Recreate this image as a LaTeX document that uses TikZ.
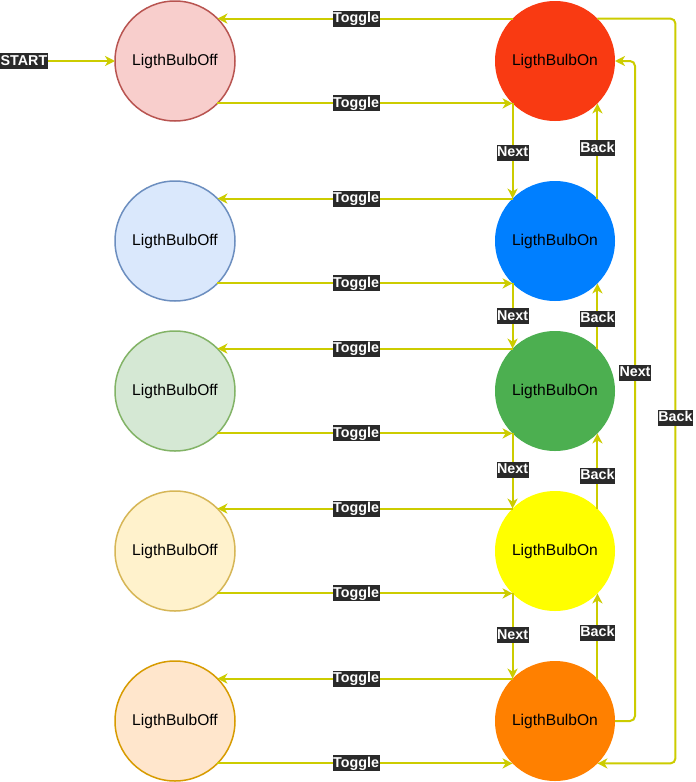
\documentclass[tikz,border=0pt]{standalone}
\usepackage{fontspec}
\setmainfont{Liberation Sans}
\usetikzlibrary{arrows.meta,calc}
\definecolor{edgec}{HTML}{CCCC00}
\definecolor{lblbg}{HTML}{2A2A2A}
\definecolor{offAf}{HTML}{F8CECC}\definecolor{offAd}{HTML}{B85450}
\definecolor{offBf}{HTML}{DAE8FC}\definecolor{offBd}{HTML}{6C8EBF}
\definecolor{offCf}{HTML}{D5E8D4}\definecolor{offCd}{HTML}{82B366}
\definecolor{offDf}{HTML}{FFF2CC}\definecolor{offDd}{HTML}{D6B656}
\definecolor{offEf}{HTML}{FFE6CC}\definecolor{offEd}{HTML}{D79B00}
\definecolor{onA}{HTML}{F93A12}
\definecolor{onB}{HTML}{007FFF}
\definecolor{onC}{HTML}{4CAF50}
\definecolor{onD}{HTML}{FFFF00}
\definecolor{onE}{HTML}{FF8000}
\begin{document}
\begin{tikzpicture}[x=1pt,y=-1pt,
  state/.style={circle, minimum size=120pt, inner sep=0pt, outer sep=0pt,
    font=\fontsize{15.6}{18}\selectfont, line width=1.5pt},
  edge/.style={draw=edgec, line width=2pt,
    -{Stealth[length=10pt,width=10pt,inset=3pt]}, rounded corners=5pt},
  lbl/.style={fill=lblbg, text=white, sharp corners, font=\bfseries\fontsize{14.3}{16}\selectfont,
    inner xsep=0.5pt, inner ysep=0pt, text height=12pt, text depth=4pt}]
\fill[white] (0,0) rectangle (696,782);
\useasboundingbox (0,0) rectangle (696,782);

% off states
\node[state, fill=offAf, draw=offAd] (off1) at (175,61) {LigthBulbOff};
\node[state, fill=offBf, draw=offBd] (off2) at (175,241) {LigthBulbOff};
\node[state, fill=offCf, draw=offCd] (off3) at (175,391) {LigthBulbOff};
\node[state, fill=offDf, draw=offDd] (off4) at (175,551) {LigthBulbOff};
\node[state, fill=offEf, draw=offEd] (off5) at (175,721) {LigthBulbOff};
% on states
\node[state, fill=onA] (on1) at (555,61) {LigthBulbOn};
\node[state, fill=onB] (on2) at (555,241) {LigthBulbOn};
\node[state, fill=onC] (on3) at (555,391) {LigthBulbOn};
\node[state, fill=onD] (on4) at (555,551) {LigthBulbOn};
\node[state, fill=onE] (on5) at (555,721) {LigthBulbOn};

% start
\node[lbl, anchor=west] (start) at (0,61) {START};
\draw[edge] (start.east) -- (off1.west);

% toggles
\foreach \i in {1,...,5}{
  \draw[edge] (on\i.135) -- node[lbl, pos=0.53] {Toggle} (off\i.45);
  \draw[edge] (off\i.-45) -- node[lbl, pos=0.47] {Toggle} (on\i.-135);
}

% next / back between neighbours
\draw[edge] (on1.-135) -- node[lbl, pos=0.52] {Next} (on2.135);
\draw[edge] (on2.45) -- node[lbl, pos=0.53] {Back} (on1.-45);
\draw[edge] (on2.-135) -- node[lbl, pos=0.5] {Next} (on3.135);
\draw[edge] (on3.45) -- node[lbl, pos=0.46] {Back} (on2.-45);
\draw[edge] (on3.-135) -- node[lbl, pos=0.48] {Next} (on4.135);
\draw[edge] (on4.45) -- node[lbl, pos=0.44] {Back} (on3.-45);
\draw[edge] (on4.-135) -- node[lbl, pos=0.49] {Next} (on5.135);
\draw[edge] (on5.45) -- node[lbl, pos=0.54] {Back} (on4.-45);

% long loops
\draw[edge] (on5.east) -- ++(20,0) |- node[lbl, pos=0.264] {Next} (on1.east);
\draw[edge] (on1.45) -| ($(on5.-45)+(78,0)$) node[lbl, pos=0.768] {Back} -- (on5.-45);
\end{tikzpicture}
\end{document}
